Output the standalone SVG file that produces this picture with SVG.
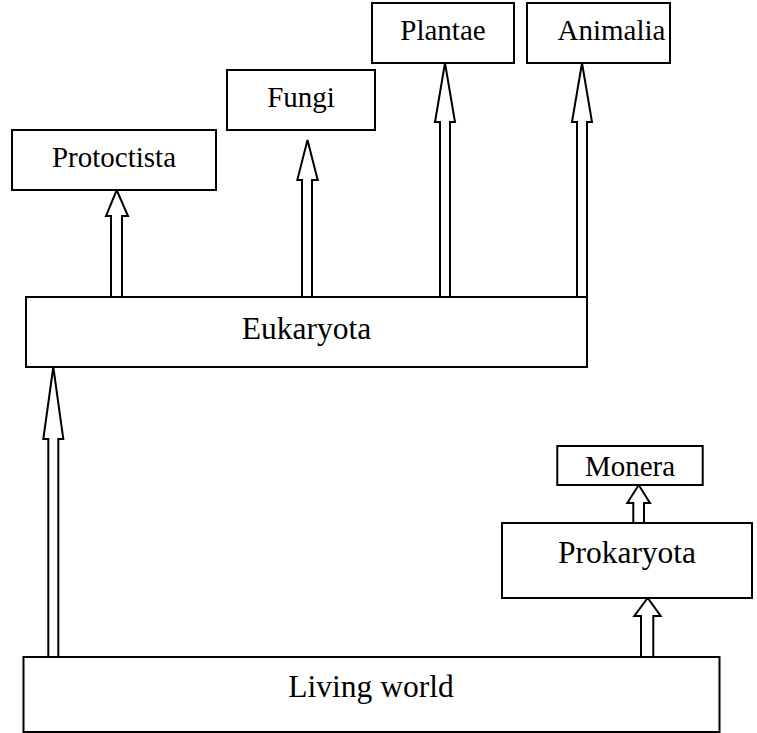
<svg xmlns="http://www.w3.org/2000/svg" width="757" height="733" viewBox="0 0 757 733">
<style>
.box{fill:#fff;stroke:#000;stroke-width:2}
.arr{fill:#fff;stroke:#000;stroke-width:2;stroke-linejoin:miter}
.t{font-family:"Liberation Serif","Times New Roman",serif;fill:#000;text-anchor:middle}
.s{font-size:29px}
.l{font-size:31.5px}
</style>
<rect width="757" height="733" fill="#fff"/>
<g id="connectors">
<path class="arr" d="M111,297 V216 H106 L116.7,190 L128,216 H122 V297"/>
<path class="arr" d="M302,297 V180 H297.3 L307.5,140 L317.7,180 H312 V297"/>
<path class="arr" d="M440,297 V122 H435 L445,63 L455,122 H450 V297"/>
<path class="arr" d="M577,297 V122 H572 L582,63 L592,122 H587 V297"/>
<path class="arr" d="M48.3,657 V439 H43.3 L53.3,367 L63.3,439 H58.3 V657"/>
<path class="arr" d="M633.3,523 V503 H627.3 L638.7,485 L650,503 H644 V523"/>
<path class="arr" d="M641,657 V616 H634.3 L647.7,598 L660.7,616 H653.3 V657"/>
</g>
<g id="protoctista"><rect class="box" x="12" y="130" width="204" height="60"/><text class="t s" x="114" y="166.5">Protoctista</text></g>
<g id="fungi"><rect class="box" x="227" y="70" width="148" height="60"/><text class="t s" x="301" y="107">Fungi</text></g>
<g id="plantae"><rect class="box" x="372" y="3" width="142" height="60"/><text class="t s" x="443" y="40">Plantae</text></g>
<g id="animalia"><rect class="box" x="527" y="3" width="143" height="60"/><text class="t s" x="611.5" y="40">Animalia</text></g>
<g id="eukaryota"><rect class="box" x="26" y="297" width="561" height="70"/><text class="t l" x="306.5" y="338.5">Eukaryota</text></g>
<g id="monera"><rect class="box" x="557.3" y="446" width="145.4" height="39"/><text class="t s" x="630" y="476">Monera</text></g>
<g id="prokaryota"><rect class="box" x="502" y="523" width="250" height="75"/><text class="t l" x="627" y="563">Prokaryota</text></g>
<g id="living-world"><rect class="box" x="23.5" y="657" width="696" height="75"/><text class="t l" x="371" y="697">Living world</text></g>
</svg>
